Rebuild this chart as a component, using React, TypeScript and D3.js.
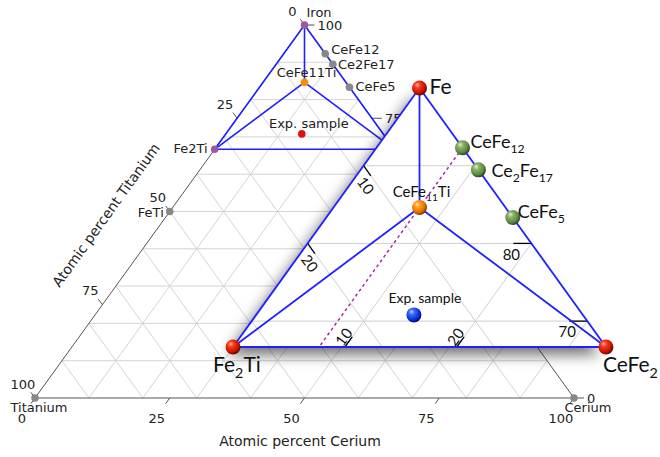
import * as d3 from "d3";

// axis ticks of the big diagram (atomic percent)
const axisTicks = [0, 25, 50, 75, 100];
const gridSteps = [10, 20, 30, 40, 50, 60, 70, 80, 90];

// points of the full Ce-Fe-Ti diagram
const bigNames = ["Iron", "Titanium", "Cerium", "FeTi", "Fe2Ti", "CeFe12", "Ce2Fe17", "CeFe5", "CeFe11Ti", "Exp. sample"];
const bigCe = [0, 0, 100, 0, 0, 7.69, 10.53, 16.67, 7.69, 14.1];
const bigFe = [100, 0, 0, 50, 66.67, 92.31, 89.47, 83.33, 84.62, 70.8];
const bigColor = ["#9b5aa0", "#888", "#888", "#888", "#9b5aa0", "#888", "#888", "#888", "#ff8c00", "#e01010"];

// points of the magnified Fe-rich corner
const phaseNames = ["Fe", "CeFe12", "Ce2Fe17", "CeFe5", "CeFe2", "Fe2Ti", "CeFe11Ti", "Exp. sample"];
const phaseCe = [0, 7.69, 10.53, 16.67, 33.33, 0, 7.69, 14.1];
const phaseFe = [100, 92.31, 89.47, 83.33, 66.67, 66.67, 84.62, 70.8];
const phaseBall = ["red", "green", "green", "green", "red", "red", "orange", "blue"];

// tie lines (same in both views)
const tieFrom = ["Fe", "Fe", "Fe2Ti", "Fe", "CeFe11Ti", "CeFe11Ti"];
const tieTo = ["Fe2Ti", "CeFe2", "CeFe2", "CeFe11Ti", "Fe2Ti", "CeFe2"];

// inset ticks
const insetCeTicks = [10, 20];
const insetTiTicks = [10, 20];
const insetFeTicks = [80, 70];
const insetGridFe = [70, 80, 90];
const insetGridCe = [10, 20, 30];
const insetGridTi = [10, 20, 30];

const bigLabelPos: Record<string, [number, number, string]> = {
  Iron: [2, -8, "start"],
  Titanium: [4, 14, "middle"],
  Cerium: [14, 14, "middle"],
  FeTi: [-6, 5.5, "end"],
  Fe2Ti: [-7, 4, "end"],
  CeFe12: [6, 0.5, "start"],
  Ce2Fe17: [5, 5, "start"],
  CeFe5: [6, 4, "start"],
  CeFe11Ti: [2, -5, "middle"],
  "Exp. sample": [7, -6, "middle"],
};

const insetLabelPos: Record<string, [number, number, string, number]> = {
  Fe: [10, 6, "start", 21],
  CeFe12: [8, 0, "start", 18],
  Ce2Fe17: [13, 7, "start", 18],
  CeFe5: [5, 0, "start", 18],
  CeFe2: [-3, 25, "start", 21],
  Fe2Ti: [-20, 25, "start", 21],
  CeFe11Ti: [2, -11, "middle", 15],
  "Exp. sample": [11, -12, "middle", 14],
};

const balls: Record<string, string[]> = {
  red: ["#ffc0b0", "#ff3a1a", "#c81400", "#6a0600"],
  green: ["#e0f0cc", "#8cb46a", "#5d8843", "#2c4720"],
  orange: ["#ffe6b0", "#ffa020", "#e07000", "#7a3800"],
  blue: ["#c0d4ff", "#3a6aff", "#0a30e0", "#001070"],
};

function Chem({ name, fs }: { name: string; fs: number }) {
  const parts = name.split(/(\d+)/).filter((s) => s !== "");
  let down = false;
  return (
    <>
      {parts.map((p, i) => {
        const isNum = /^\d+$/.test(p);
        let dy = 0;
        if (isNum && !down) { dy = fs * 0.3; down = true; }
        else if (!isNum && down) { dy = -fs * 0.3; down = false; }
        return (
          <tspan key={i} dy={dy} fontSize={isNum ? fs * 0.68 : fs}>{p}</tspan>
        );
      })}
    </>
  );
}

export default function App() {
  const bx = d3.scaleLinear().domain([0, 100]).range([35, 574]);
  const by = d3.scaleLinear().domain([0, 100]).range([398, 25]);
  const big = (ce: number, fe: number): [number, number] => [bx(ce + fe / 2), by(fe)];

  const ix = d3.scaleLinear().domain([33.33, 66.67]).range([233, 606]);
  const iy = d3.scaleLinear().domain([66.67, 100]).range([347, 88]);
  const ins = (ce: number, fe: number): [number, number] => [ix(ce + fe / 2), iy(fe)];

  const line = d3.line();
  const idx = (n: string) => phaseNames.indexOf(n);
  const font = "DejaVu Sans, sans-serif";
  const ifont = "Lato, 'Open Sans', sans-serif";

  const gridLines: [number, number][][] = [];
  gridSteps.forEach((v) => {
    gridLines.push([big(0, v), big(100 - v, v)]);
    gridLines.push([big(v, 0), big(v, 100 - v)]);
    gridLines.push([big(100 - v, 0), big(0, 100 - v)]);
  });

  const iGrid: [number, number][][] = [];
  insetGridFe.forEach((v) => iGrid.push([ins(-20, v), ins(100 - v + 20, v)]));
  insetGridCe.forEach((v) => iGrid.push([ins(v, 0), ins(v, 100 - v)]));
  insetGridTi.forEach((v) => iGrid.push([ins(100 - v, 0), ins(0, 100 - v)]));

  const outline = [big(0, 100), big(0, 0), big(100, 0)];
  const insetTri = [ins(0, 100), ins(0, 66.67), ins(33.33, 66.67)];

  const dL = [-0.587, -0.811];
  const dB = [-0.586, 0.811];

  return (
    <svg width={660} height={457} style={{ position: "absolute", left: 0, top: 0, background: "#fff" }}>
      <defs>
        <filter id="shadow" x="-30%" y="-30%" width="160%" height="160%">
          <feDropShadow dx={-6} dy={8} stdDeviation={7} floodColor="#000" floodOpacity={0.55} />
        </filter>
        <clipPath id="insetClip">
          <path d={line(insetTri as any) + "Z"} />
        </clipPath>
        {Object.keys(balls).map((k) => (
          <radialGradient key={k} id={"ball-" + k} cx="40%" cy="38%" r="62%" fx="34%" fy="28%">
            <stop offset="0%" stopColor={balls[k][0]} />
            <stop offset="30%" stopColor={balls[k][1]} />
            <stop offset="75%" stopColor={balls[k][2]} />
            <stop offset="100%" stopColor={balls[k][3]} />
          </radialGradient>
        ))}
      </defs>

      {/* full diagram */}
      <g>
        {gridLines.map((l, i) => (
          <path key={i} d={line(l) || ""} stroke="#cfcfcf" strokeWidth={0.9} fill="none" />
        ))}
        <path d={line(outline as any) + "Z"} fill="none" stroke="#555" strokeWidth={1} />
        {axisTicks.map((t) => {
          const pb = big(t, 0);
          const pl = big(0, 100 - t);
          const pr = big(100 - t, t);
          return (
            <g key={t} fontFamily={font} fontSize={13} fill="#222">
              <line x1={pb[0]} y1={pb[1]} x2={pb[0] + 7 * dB[0]} y2={pb[1] + 7 * dB[1]} stroke="#555" />
              <text x={pb[0] - 13} y={pb[1] + 20} dy="0.35em" textAnchor="middle">{t}</text>
              <line x1={pl[0]} y1={pl[1]} x2={pl[0] + 7 * dL[0]} y2={pl[1] + 7 * dL[1]} stroke="#555" />
              <text x={pl[0] - 12} y={pl[1] - 14} dy="0.35em" textAnchor="middle">{t}</text>
              <line x1={pr[0]} y1={pr[1]} x2={pr[0] + 10} y2={pr[1]} stroke="#555" />
              <text x={pr[0] + 13} y={pr[1]} dy="0.35em" textAnchor="start">{t}</text>
            </g>
          );
        })}
        <text x={300} y={446} textAnchor="middle" fontFamily={font} fontSize={14} fill="#222">Atomic percent Cerium</text>
        <text transform="translate(110,218) rotate(-54.2)" textAnchor="middle" fontFamily={font} fontSize={14} fill="#222">Atomic percent Titanium</text>

        {tieFrom.map((f, i) => {
          const a = idx(f), b = idx(tieTo[i]);
          return (
            <path key={i} d={line([big(phaseCe[a], phaseFe[a]), big(phaseCe[b], phaseFe[b])]) || ""} stroke="#1f1fff" strokeWidth={1.6} fill="none" />
          );
        })}
        {bigNames.map((n, i) => {
          const p = big(bigCe[i], bigFe[i]);
          const lp = bigLabelPos[n];
          return (
            <g key={n}>
              <circle cx={p[0]} cy={p[1]} r={3.8} fill={bigColor[i]} />
              <text x={p[0] + lp[0]} y={p[1] + lp[1]} textAnchor={lp[2] as any} fontFamily={font} fontSize={13} fill="#222">{n}</text>
            </g>
          );
        })}
      </g>

      {/* magnified corner */}
      <g>
        <path d={line(insetTri as any) + "Z"} fill="#fff" filter="url(#shadow)" />
        <g clipPath="url(#insetClip)">
          {iGrid.map((l, i) => (
            <path key={i} d={line(l) || ""} stroke="#cfcfcf" strokeWidth={1} fill="none" />
          ))}
        </g>
        {insetCeTicks.map((t) => {
          const p = ins(t, 66.67);
          const q = ins(t, 66.67 + 1.3);
          return (
            <g key={"c" + t}>
              <line x1={p[0]} y1={p[1]} x2={q[0]} y2={q[1]} stroke="#000" strokeWidth={1.3} />
              <text transform={`translate(${p[0] - 1},${p[1] - 10}) rotate(-54)`} dy="0.35em" textAnchor="middle" fontFamily={ifont} fontSize={15} fill="#111">{t}</text>
            </g>
          );
        })}
        {insetTiTicks.map((t) => {
          const p = ins(0, 100 - t);
          const q = ins(1.3, 100 - t - 1.3);
          return (
            <g key={"t" + t}>
              <line x1={p[0]} y1={p[1]} x2={q[0]} y2={q[1]} stroke="#000" strokeWidth={1.3} />
              <text transform={`translate(${p[0] + 2},${p[1] + 20}) rotate(54)`} dy="0.35em" textAnchor="middle" fontFamily={ifont} fontSize={15} fill="#111">{t}</text>
            </g>
          );
        })}
        {insetFeTicks.map((t) => {
          const p = ins(100 - t, t);
          return (
            <g key={"f" + t}>
              <line x1={p[0]} y1={p[1]} x2={p[0] - 18} y2={p[1]} stroke="#000" strokeWidth={1.3} />
              <text x={p[0] - 20} y={p[1] + 11} dy="0.35em" textAnchor="middle" fontFamily={ifont} fontSize={15} fill="#111">{t}</text>
            </g>
          );
        })}
        <path d={line([ins(phaseCe[idx("CeFe12")], phaseFe[idx("CeFe12")]), ins(phaseCe[idx("CeFe12")], 66.67)]) || ""} stroke="#a52aa5" strokeWidth={1.5} strokeDasharray="3,3" fill="none" />
        {tieFrom.map((f, i) => {
          const a = idx(f), b = idx(tieTo[i]);
          return (
            <path key={i} d={line([ins(phaseCe[a], phaseFe[a]), ins(phaseCe[b], phaseFe[b])]) || ""} stroke="#1f1fff" strokeWidth={1.8} fill="none" />
          );
        })}
        {phaseNames.map((n, i) => {
          const p = ins(phaseCe[i], phaseFe[i]);
          const lp = insetLabelPos[n];
          return (
            <g key={n}>
              <circle cx={p[0]} cy={p[1]} r={7.5} fill={`url(#ball-${phaseBall[i]})`} />
              <text x={p[0] + lp[0]} y={p[1] + lp[1]} textAnchor={lp[2] as any} fontFamily={ifont} fontSize={lp[3]} fill="#111">
                <Chem name={n} fs={lp[3]} />
              </text>
            </g>
          );
        })}
      </g>
    </svg>
  );
}
